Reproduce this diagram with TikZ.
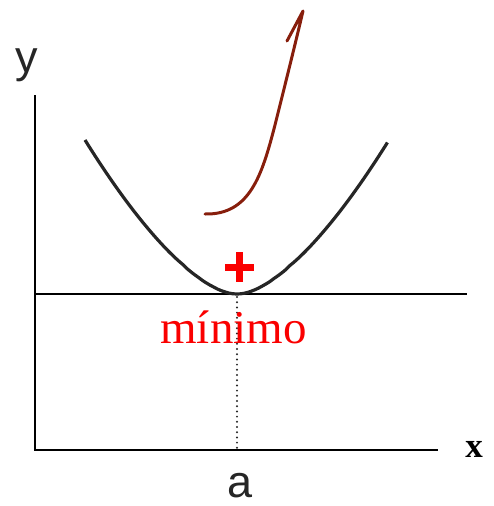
\documentclass[tikz,border=0pt]{standalone}
\usepackage{fontspec}
\setmainfont{Liberation Serif}
\setsansfont{Liberation Sans}
\usetikzlibrary{positioning}
\definecolor{penbrown}{RGB}{135,30,12}
\definecolor{minred}{RGB}{250,0,0}

\begin{document}
\begin{tikzpicture}[x=1pt, y=-1pt]
		% Styles
		\tikzset{
			axis/.style={line width=2.5pt, black},
			curve/.style={line width=3.2pt, black!85},
			guide/.style={line width=2.2pt, black!85, line cap=round, dash pattern=on 0pt off 5.2pt},
			sanslabel/.style={font={\sffamily\fontsize{45}{48}\selectfont}, text=black!85, anchor=base, inner sep=0pt},
			pen/.style={line width=3pt, penbrown, line cap=round, line join=round}
		}
		
		% Frame of the image
		\useasboundingbox (0,0) rectangle (493,506);
		
		% Points of the axes
		\coordinate (Origin) at (35,450);
		\coordinate (YTop) at (35,95);
		\coordinate (XEnd) at (438,450);
		\coordinate (LevelL) at (35,294);
		\coordinate (LevelR) at (467,294);
		\coordinate (Min) at (237,297);
		\coordinate (MinFoot) at (237,450);
		
		% Axes and the level of the minimum
		\draw[axis] (YTop) -- (Origin) -- (XEnd);
		\draw[axis, line width=2.8pt] (LevelL) -- (LevelR);
		
		% Dotted guide down to a
		\draw[guide] (Min) -- (MinFoot);
		
		% The curve with its minimum at a
		\draw[curve] plot[domain=-1:0.99, samples=81, smooth]
			({237+152*\x}, {294-154*(pow(\x*\x+0.00974,0.78)-0.027)/0.9806});
		
		% Labels of the axes
		\node[sanslabel] (YLabel) at (27,72) {y};
		\node[sanslabel] (ALabel) at (240,497) {a};
		\node[font={\bfseries\fontsize{35}{38}\selectfont}, anchor=base, inner sep=0pt] (XLabel) at (474,457) {x};
		
		% Red plus and the word below it
		\draw[minred, line width=7pt] (239.5,252) -- (239.5,282) (225,267) -- (254,267);
		\node[font={\fontsize{47}{50}\selectfont}, text=minred, anchor=base, inner sep=0pt] (MinLabel) at (233.5,343) {mínimo};
		
		% Hand drawn arrow
		\coordinate (PenStart) at (205,214);
		\coordinate (PenTip) at (303,11);
		\draw[pen] (PenStart) .. controls (250,215) and (262,175) .. (275,125)
			.. controls (285,85) and (295,45) .. (PenTip) -- (287,41);
		
	\end{tikzpicture}
\end{document}
